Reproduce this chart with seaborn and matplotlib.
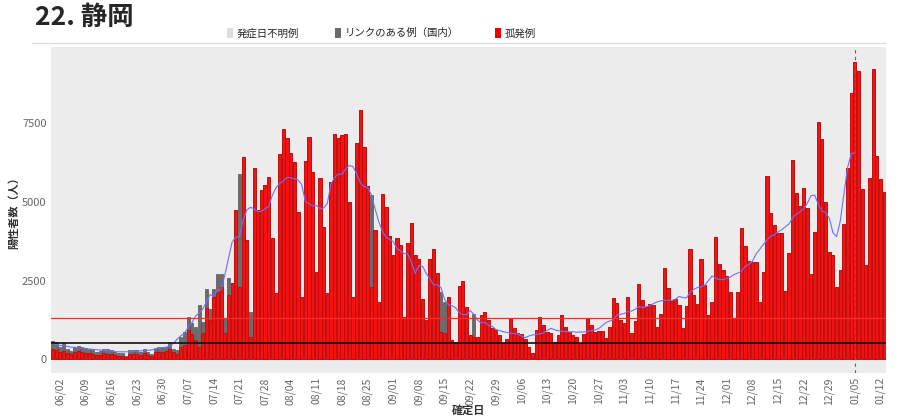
import numpy as np
import pandas as pd
import seaborn as sns
import matplotlib.pyplot as plt
from matplotlib.patches import Patch
from matplotlib.lines import Line2D

# daily counts from 2022-05-31 to 2023-01-13
start_date = "2022-05-31"

# 孤発例 (red part)
isolated = [
    330, 300, 230, 260, 200, 160, 230, 250, 220, 200, 200, 180, 130, 150,
    200, 180, 160, 140, 120, 120, 80, 170, 180, 170, 130, 190, 130, 110,
    220, 220, 230, 260, 330, 220, 180, 400, 450, 930, 800, 614, 400, 826,
    1620, 1250, 1990, 2150, 2309, 820, 2044, 2414, 4744, 2309, 6418, 3791, 720, 6068,
    4744, 5380, 5540, 5800, 3844, 2097, 6523, 7318, 7022, 6545, 6280, 4691, 1990, 6312,
    7075, 5962, 2785, 5750, 4215, 2097, 5645, 7160, 7022, 7128, 7160, 5010, 1990, 6885,
    7920, 6757, 5500, 2309, 4109, 1832, 5263, 4850, 3918, 3315, 3844, 3632, 1355, 3706,
    4320, 3315, 3188, 1917, 1250, 3188, 3505, 2732, 879, 826, 1970, 614, 540, 2340,
    2500, 1673, 773, 720, 699, 1408, 1514, 1250, 985, 932, 773, 508, 646, 1303,
    985, 826, 794, 646, 402, 212, 932, 1356, 1091, 879, 826, 561, 773, 1408,
    1038, 879, 773, 720, 508, 794, 1303, 1091, 879, 910, 900, 667, 1038, 1960,
    1780, 1250, 1144, 1990, 826, 1228, 2394, 1885, 1673, 1758, 1726, 1017, 1440, 2891,
    2256, 1885, 1906, 1726, 985, 1705, 3495, 2044, 1758, 3177, 2362, 1408, 1832, 3897,
    3029, 2838, 2648, 2129, 1303, 2150, 4183, 3600, 3135, 3103, 3103, 1832, 2785, 5825,
    4638, 4257, 4024, 4003, 2182, 3368, 6333, 5295, 4872, 5433, 4797, 2700, 4035, 7551,
    6990, 5009, 3400, 3315, 2309, 2838, 4300, 6089, 8472, 9457, 9171, 5401, 2997, 5750,
    9213, 6471, 5729, 5306,
]

# リンクのある例（国内） (dark gray part, stacked on top of red)
linked = [
    260, 260, 150, 260, 130, 100, 170, 180, 160, 160, 140, 120, 100, 100,
    140, 140, 120, 100, 80, 90, 40, 130, 130, 130, 90, 130, 100, 70,
    150, 160, 150, 140, 210, 110, 100, 300, 430, 427, 350, 423, 1326, 371,
    604, 350, 234, 561, 402, 483, 529, 0, 0, 3579, 0, 0, 794, 0,
    0, 0, 0, 0, 0, 0, 0, 0, 0, 0, 0, 0, 0, 0,
    0, 0, 0, 0, 0, 0, 0, 0, 0, 0, 0, 0, 0, 0,
    0, 0, 0, 2912, 0, 0, 0, 0, 0, 0, 0, 0, 0, 0,
    0, 0, 0, 0, 0, 0, 0, 0, 1250, 1006, 0, 0, 0, 0,
    0, 0, 0, 710, 0, 0, 0, 0, 0, 0, 0, 0, 0, 0,
    0, 0, 0, 0, 0, 0, 0, 0, 0, 0, 0, 0, 0, 0,
    0, 0, 0, 0, 0, 0, 0, 0, 0, 0, 0, 0, 0, 0,
    0, 0, 0, 0, 0, 0, 0, 0, 0, 0, 0, 0, 0, 0,
    0, 0, 0, 0, 0, 0, 0, 0, 0, 0, 0, 0, 0, 0,
    0, 0, 0, 0, 0, 0, 0, 0, 0, 0, 0, 0, 0, 0,
    0, 0, 0, 0, 0, 0, 0, 0, 0, 0, 0, 0, 0, 0,
    0, 0, 0, 0, 0, 0, 0, 0, 0, 0, 0, 0, 0, 0,
    0, 0, 0, 0,
]

red_line = 1300      # upper reference line
black_line = 520     # lower reference line
cutoff_date = "2023-01-05"

sns.set_theme(style="white")
plt.rcParams["font.family"] = ["Noto Sans CJK JP", "DejaVu Sans"]

df = pd.DataFrame({
    "date": pd.date_range(start_date, periods=len(isolated)),
    "isolated": isolated,
    "linked": linked,
})
df["pos"] = np.arange(len(df))
df["total"] = df["isolated"] + df["linked"]
df["ma"] = df["total"].rolling(7, center=True, min_periods=1).mean()
cut_pos = int(df.loc[df["date"] == cutoff_date, "pos"].iloc[0])

fig = plt.figure(figsize=(9.01, 4.19), dpi=100)
ax = fig.add_axes([0.0563, 0.1098, 0.9271, 0.778])
ax.set_facecolor("#ececec")

sns.barplot(data=df, x="pos", y="total", color="#6a6a6a", width=0.85,
            saturation=1, errorbar=None, native_scale=True, ax=ax,
            edgecolor="#555555", linewidth=0.5)
sns.barplot(data=df, x="pos", y="isolated", color="#f21212", width=0.85,
            saturation=1, errorbar=None, native_scale=True, ax=ax,
            edgecolor="#c40000", linewidth=0.5)

sns.lineplot(data=df[df["pos"] <= cut_pos], x="pos", y="ma",
             color="#6f6fff", lw=0.8, ax=ax)

ax.axhline(red_line, color="#ff2a2a", lw=0.9)
ax.axhline(black_line, color="#111111", lw=1.2)
ax.axvline(cut_pos, color="#e03030", lw=0.8, ls=(0, (3, 3)))

ax.set_xlim(-0.5, len(df) - 0.5)
ax.set_ylim(-435, 9920)

ticks = df.iloc[2::7]
ax.set_xticks(ticks["pos"])
ax.set_xticklabels(ticks["date"].dt.strftime("%m/%d"), rotation=90,
                   fontsize=7.5, color="#666666")
ax.set_yticks([0, 2500, 5000, 7500])
ax.set_yticklabels(["0", "2500", "5000", "7500"], fontsize=8, color="#666666")
ax.tick_params(length=0, pad=3)
for s in ax.spines.values():
    s.set_visible(False)

ax.set_ylabel("陽性者数（人）", fontsize=8, fontweight="bold", color="#333333")
ax.yaxis.set_label_coords(-0.037, 0.5)
ax.set_xlabel("確定日", fontsize=8, fontweight="bold", color="#333333")
ax.xaxis.set_label_coords(0.5, -0.095)

fig.text(35 / 901, 1 - 17 / 419, "22. 静岡", fontsize=19, fontweight="bold",
         va="center", ha="left")
fig.add_artist(Line2D([32 / 901, 885 / 901], [1 - 43 / 419] * 2,
                      color="#dddddd", lw=1))

handles = [
    Patch(facecolor="#dddddd", edgecolor="none", label="発症日不明例"),
    Patch(facecolor="#6a6a6a", edgecolor="none", label="リンクのある例（国内）"),
    Patch(facecolor="#ee0000", edgecolor="none", label="孤発例"),
]
fig.legend(handles=handles, loc="center", bbox_to_anchor=(0.423, 1 - 33 / 419),
           ncol=3, frameon=False, fontsize=7.5, handlelength=0.6,
           handleheight=1.2, handletextpad=0.3, columnspacing=3.5)

fig.savefig("out.png", dpi=100)
